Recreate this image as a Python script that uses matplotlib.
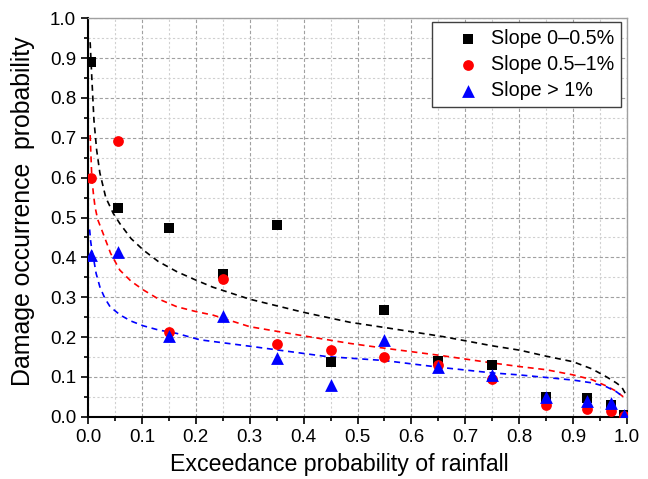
import matplotlib
matplotlib.use('Agg')
import matplotlib.pyplot as plt
from matplotlib.ticker import MultipleLocator

plt.rcParams['font.family'] = ['Liberation Sans', 'DejaVu Sans']

# observed points
x_obs    = [0.005, 0.055, 0.15, 0.25, 0.35, 0.45, 0.55, 0.65, 0.75, 0.85, 0.925, 0.97, 0.995]
y_slope1 = [0.89, 0.525, 0.473, 0.358, 0.48, 0.138, 0.268, 0.14, 0.13, 0.05, 0.048, 0.03, 0.005]
y_slope2 = [0.60, 0.693, 0.212, 0.345, 0.182, 0.167, 0.151, 0.13, 0.095, 0.03, 0.02, 0.015, 0.003]
y_slope3 = [0.405, 0.413, 0.203, 0.252, 0.148, 0.08, 0.193, 0.125, 0.105, 0.05, 0.04, 0.035, 0.005]

# fitted curves
fit1_x = [0.004, 0.007, 0.011, 0.016, 0.022, 0.033, 0.047, 0.059, 0.08, 0.103, 0.13, 0.165, 0.2, 0.232,
          0.30, 0.40, 0.486, 0.55, 0.659, 0.75, 0.801, 0.85, 0.90, 0.935, 0.962, 0.98, 0.99, 0.997]
fit1_y = [0.94, 0.853, 0.745, 0.67, 0.612, 0.55, 0.51, 0.485, 0.447, 0.418, 0.39, 0.364, 0.343, 0.325,
          0.295, 0.262, 0.237, 0.224, 0.201, 0.178, 0.167, 0.152, 0.138, 0.12, 0.10, 0.085, 0.075, 0.058]
fit2_x = [0.004, 0.007, 0.010, 0.013, 0.018, 0.028, 0.042, 0.059, 0.08, 0.103, 0.13, 0.165, 0.2, 0.232,
          0.30, 0.40, 0.486, 0.55, 0.653, 0.75, 0.80, 0.85, 0.90, 0.935, 0.962, 0.98, 0.993]
fit2_y = [0.707, 0.602, 0.56, 0.527, 0.495, 0.46, 0.41, 0.368, 0.34, 0.318, 0.296, 0.276, 0.264, 0.255,
          0.226, 0.203, 0.184, 0.172, 0.154, 0.135, 0.126, 0.118, 0.105, 0.093, 0.077, 0.064, 0.05]
fit3_x = [0.003, 0.005, 0.007, 0.010, 0.015, 0.022, 0.031, 0.041, 0.06, 0.08, 0.103, 0.13, 0.165, 0.208,
          0.30, 0.443, 0.55, 0.653, 0.75, 0.80, 0.90, 0.935, 0.962, 0.98, 0.993]
fit3_y = [0.47, 0.44, 0.42, 0.40, 0.36, 0.326, 0.298, 0.276, 0.255, 0.24, 0.228, 0.218, 0.209, 0.193,
          0.177, 0.151, 0.141, 0.124, 0.11, 0.105, 0.092, 0.085, 0.075, 0.063, 0.05]

fig = plt.figure(figsize=(6.48, 4.79), dpi=100)
ax = fig.add_axes([0.1358, 0.130, 0.8318, 0.8318])

ax.plot(fit1_x, fit1_y, color='black', lw=1.2, ls=(0, (3.6, 2.8)), zorder=2)
ax.plot(fit2_x, fit2_y, color='red', lw=1.2, ls=(0, (3.6, 2.8)), zorder=2)
ax.plot(fit3_x, fit3_y, color='blue', lw=1.2, ls=(0, (3.6, 2.8)), zorder=2)

ax.scatter(x_obs, y_slope1, marker='s', color='black', s=45, lw=0, zorder=3, label='Slope 0\u20130.5%')
ax.scatter(x_obs, y_slope2, marker='o', color='red', s=60, lw=0, zorder=4, label='Slope 0.5\u20131%')
ax.scatter(x_obs, y_slope3, marker='^', color='blue', s=85, lw=0, zorder=5, label='Slope > 1%')

ax.set_xlim(0, 1)
ax.set_ylim(0, 1)
ax.xaxis.set_major_locator(MultipleLocator(0.1))
ax.xaxis.set_minor_locator(MultipleLocator(0.05))
ax.yaxis.set_major_locator(MultipleLocator(0.1))
ax.yaxis.set_minor_locator(MultipleLocator(0.05))
ax.set_xticklabels([f'{v:.1f}' for v in ax.get_xticks()])
ax.set_yticklabels([f'{v:.1f}' for v in ax.get_yticks()])

ax.grid(which='major', color='#a0a0a0', ls=(0, (3, 2)), lw=0.8)
ax.grid(which='minor', color='#d0d0d0', ls=(0, (2, 2)), lw=0.8)
ax.set_axisbelow(True)

ax.tick_params(which='major', direction='out', length=5, width=1.2, labelsize=13.5,
               top=False, right=False)
ax.tick_params(which='minor', direction='out', length=3, width=1.2, top=False, right=False)
for side in ['left', 'bottom']:
    ax.spines[side].set_linewidth(1.5)
    ax.spines[side].set_color('black')
for side in ['top', 'right']:
    ax.spines[side].set_linewidth(1.0)
    ax.spines[side].set_color('#a0a0a0')

ax.set_xlabel('Exceedance probability of rainfall', fontsize=16.7, labelpad=7)
ax.xaxis.set_label_coords(0.466, -0.09)
ax.set_ylabel('Damage occurrence  probability', fontsize=17.9, labelpad=5)
ax.yaxis.set_label_coords(-0.098, 0.515)

leg = ax.legend(loc='upper right', bbox_to_anchor=(0.989, 0.99), fontsize=14.2, frameon=True,
                fancybox=False, handlelength=3.0, handletextpad=-0.36, borderpad=0.36,
                labelspacing=0.35, borderaxespad=0.0, scatterpoints=1, markerscale=1.0)
leg.get_frame().set_edgecolor('#404040')
leg.get_frame().set_linewidth(1.0)
leg.get_frame().set_alpha(1)

fig.savefig('out.png', dpi=100)
